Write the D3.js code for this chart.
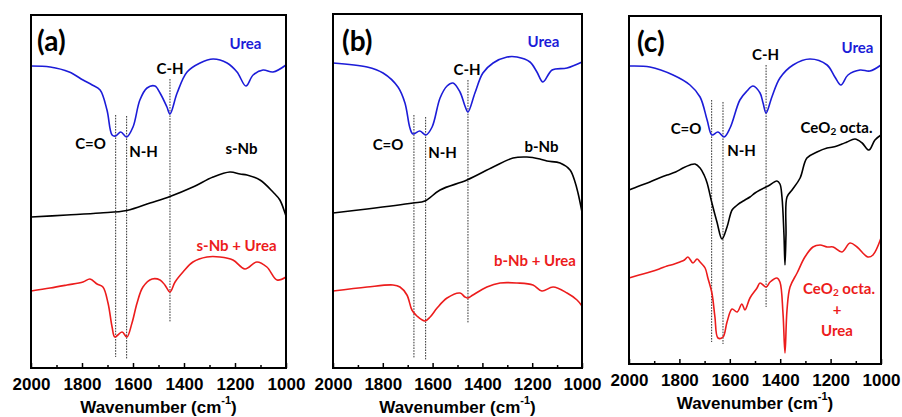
<!DOCTYPE html>
<html><head><meta charset="utf-8">
<script src="https://cdn.jsdelivr.net/npm/d3@7"></script>
<style>body{margin:0;background:#fff}svg{display:block}</style>
</head><body><svg id="chart" width="902" height="417"></svg>
<script>
// ---------- DATA (wavenumber in cm-1, transmittance in arbitrary units) ----------
const tickValues = [2000, 1800, 1600, 1400, 1200, 1000];
const minorTickValues = [1900, 1700, 1500, 1300, 1100];

// Panel (a)
const a_urea_w = [2000,1925,1850,1796,1760,1729,1702,1682,1668,1648,1625,1600,1573,1545,1514,1494,1467,1455,1427,1388,1337,1286,1231,1192,1157,1129,1090,1051,1000];
const a_urea_v = [302,301,296,288,283,278,258,233,232,236,231,241,268,280,282,275,261,254,275,296,305,309,305,296,282,293,298,296,303];
const a_snb_w = [2000,1859,1729,1624,1533,1455,1365,1286,1220,1180,1153,1102,1051,1024,1004,1000];
const a_snb_v = [151,153,155,157.5,165,171.5,181,191,196,194,193,188,176,168,155,152];
const a_mix_w = [2000,1925,1859,1796,1769,1741,1718,1698,1682,1671,1643,1624,1604,1584,1561,1525,1494,1475,1455,1435,1404,1365,1310,1259,1208,1161,1114,1075,1035,1000];
const a_mix_v = [77,80,83,86,89,84,81,65,41,31,36,31,45,65,81,89,88,83,76,86,96,106,111,111,108,99,106,101,88,91];

// Panel (b)
const b_urea_w = [2000,1863,1799,1739,1711,1691,1679,1651,1627,1602,1570,1542,1518,1490,1470,1458,1430,1398,1357,1301,1261,1209,1181,1157,1120,1060,1000];
const b_urea_v = [305,301,295,281,265,240,234,237,233,241,270,282,285,276,262,256,275,295,305,311,311,306,296,286,298,300,306];
const b_bnb_w = [2000,1863,1679,1631,1570,1462,1357,1277,1221,1169,1141,1088,1048,1028,1016,1000];
const b_bnb_v = [155,159,165,167,178,188,201,210,211,209,207,205,198,186,175,156];
const b_mix_w = [2000,1863,1759,1731,1703,1683,1663,1631,1610,1582,1542,1490,1470,1458,1438,1382,1329,1261,1197,1161,1116,1060,1020,1000];
const b_mix_v = [77,81,83,81,73,58,52,47,51,60,70,75,71,70,73,81,85,85,83,77,81,75,68,62];

// Panel (c)
const c_urea_w = [2000,1917,1825,1758,1718,1690,1671,1647,1623,1599,1560,1532,1508,1480,1468,1456,1433,1401,1349,1282,1214,1183,1159,1131,1083,1044,1000];
const c_urea_v = [298,297,289,279,267,244,229,232,227,236,264,273,278,271,261,251,267,286,299,305,299,287,279,289,294,293,299];
const c_ceo2_w = [2000,1960,1917,1880,1849,1815,1786,1758,1738,1718,1702,1690,1671,1651,1631,1611,1591,1575,1560,1540,1520,1500,1480,1448,1413,1401,1393,1385,1381,1377,1373,1353,1321,1294,1254,1214,1190,1155,1135,1103,1075,1048,1024,1000];
const c_ceo2_v = [174,178,182,186,189,192,196,199,200,196,189,181,161,142,125,137,154,158,161,164,167,171,174,178,183,180,167,129,99,129,167,174,186,206,212,216,217,220,222,225,221,214,224,229];
const c_mix_w = [2000,1960,1917,1880,1849,1820,1798,1780,1766,1746,1730,1718,1698,1687,1671,1659,1647,1627,1611,1591,1571,1552,1540,1520,1492,1480,1456,1440,1413,1401,1389,1381,1373,1361,1333,1302,1270,1242,1214,1190,1155,1123,1095,1052,1032,1000];
const c_mix_v = [86,89,92,95,98,100,102,104,107,101,105,102,96,86,71,47,26,27,42,55,52,60,54,66,76,81,77,82,86,82,51,11,54,77,91,107,117,119,117,117,112,121,117,107,109,126];

// Marker (dotted guide) wavenumbers
const a_guides = [1668, 1625, 1455];
const b_guides = [1675, 1628, 1458];
const c_guides = [1672, 1627, 1456];

// ---------- DRAWING ----------
const svg = d3.select('#chart');
const BLUE = '#1c1cd8', RED = '#ec1c1c', BLACK = '#000';
const LABEL_FONT = 'Lato, "Open Sans", sans-serif';
const AXIS_FONT = '"Liberation Sans", Arial, sans-serif';

const panels = [
  {box:{l:31,r:286,t:15,b:368}, yMax:353,
   series:[{w:a_urea_w,v:a_urea_v,c:BLUE},{w:a_snb_w,v:a_snb_v,c:BLACK},{w:a_mix_w,v:a_mix_v,c:RED}],
   guides:a_guides, guideTops:[253,252,289], guideBots:[11,9,46],
   tag:'(a)', tagPos:[37,40],
   labels:[
     {t:'Urea',x:245.5,y:43,c:BLUE},{t:'C-H',x:170,y:68,c:BLACK},{t:'C=O',x:90.5,y:143,c:BLACK},
     {t:'N-H',x:143.5,y:151,c:BLACK},{t:'s-Nb',x:241.5,y:148,c:BLACK},{t:'s-Nb + Urea',x:236.5,y:245,c:RED}]},
  {box:{l:333,r:582,t:14,b:368}, yMax:354,
   series:[{w:b_urea_w,v:b_urea_v,c:BLUE},{w:b_bnb_w,v:b_bnb_v,c:BLACK},{w:b_mix_w,v:b_mix_v,c:RED}],
   guides:b_guides, guideTops:[253,251,288], guideBots:[10,8,45],
   tag:'(b)', tagPos:[342,40],
   labels:[
     {t:'Urea',x:543.5,y:41,c:BLUE},{t:'C-H',x:467,y:69,c:BLACK},{t:'C=O',x:388,y:144,c:BLACK},
     {t:'N-H',x:442.5,y:152,c:BLACK},{t:'b-Nb',x:541.5,y:146,c:BLACK},{t:'b-Nb + Urea',x:535,y:260,c:RED}]},
  {box:{l:629,r:881,t:16,b:364}, yMax:348,
   series:[{w:c_urea_w,v:c_urea_v,c:BLUE},{w:c_ceo2_w,v:c_ceo2_v,c:BLACK},{w:c_mix_w,v:c_mix_v,c:RED}],
   guides:c_guides, guideTops:[264,262,299], guideBots:[22,20,57],
   tag:'(c)', tagPos:[637,41],
   labels:[
     {t:'Urea',x:857.5,y:47,c:BLUE},{t:'C-H',x:765.5,y:54,c:BLACK},{t:'C=O',x:686,y:128,c:BLACK},
     {t:'N-H',x:741.5,y:150,c:BLACK},
     {t:'CeO|2| octa.',x:836.5,y:127,c:BLACK},
     {t:'CeO|2| octa.',x:839,y:288,c:RED},{t:'+',x:837,y:309,c:RED},{t:'Urea',x:837,y:330,c:RED}]}
];

panels.forEach(p => {
  const x = d3.scaleLinear().domain([2000, 1000]).range([p.box.l, p.box.r]);
  const y = d3.scaleLinear().domain([0, p.yMax]).range([p.box.b, p.box.t]);
  const g = svg.append('g');

  // guides
  p.guides.forEach((gw, i) => {
    g.append('line').attr('x1', x(gw)).attr('x2', x(gw))
      .attr('y1', y(p.guideTops[i])).attr('y2', y(p.guideBots[i]))
      .attr('stroke', '#333').attr('stroke-width', 1).attr('stroke-dasharray', '1.6,1.2');
  });

  // series
  const line = d3.line().x(d => x(d[0])).y(d => y(d[1])).curve(d3.curveCatmullRom.alpha(0.5));
  p.series.forEach(s => {
    g.append('path').datum(d3.zip(s.w, s.v)).attr('d', line)
      .attr('fill', 'none').attr('stroke', s.c).attr('stroke-width', 1.6).attr('stroke-linejoin', 'round');
  });

  // axis with inward ticks
  const ax = g.append('g').attr('transform', `translate(0,${p.box.b})`)
    .call(d3.axisBottom(x).tickValues(tickValues).tickSize(-5).tickPadding(10).tickFormat(d3.format('d')));
  ax.select('.domain').remove();
  ax.selectAll('.tick line').attr('stroke', '#000').attr('stroke-width', 1.5);
  ax.selectAll('.tick text').attr('font-family', AXIS_FONT).attr('font-weight', 'bold').attr('font-size', 17).attr('fill', '#000');
  g.append('g').attr('transform', `translate(0,${p.box.b})`)
    .call(d3.axisBottom(x).tickValues(minorTickValues).tickSize(-3).tickFormat(''))
    .call(a => { a.select('.domain').remove(); a.selectAll('line').attr('stroke', '#000').attr('stroke-width', 1.5); });

  // frame
  g.append('rect').attr('x', p.box.l).attr('y', p.box.t)
    .attr('width', p.box.r - p.box.l).attr('height', p.box.b - p.box.t)
    .attr('fill', 'none').attr('stroke', '#000').attr('stroke-width', 2);

  // axis title
  const tt = g.append('text').attr('x', (p.box.l + p.box.r) / 2).attr('y', p.box.b + 39)
    .attr('text-anchor', 'middle').attr('dominant-baseline', 'central')
    .attr('font-family', AXIS_FONT).attr('font-weight', 'bold').attr('font-size', 17);
  tt.append('tspan').text('Wavenumber (cm');
  tt.append('tspan').text('-1').attr('font-size', 11).attr('dy', -7);
  tt.append('tspan').text(')').attr('dy', 7);

  // panel tag
  g.append('text').attr('x', p.tagPos[0]).attr('y', p.tagPos[1]).attr('dominant-baseline', 'central')
    .attr('font-family', LABEL_FONT).attr('font-weight', 'bold').attr('font-size', 28).text(p.tag);

  // labels
  p.labels.forEach(l => {
    const t = g.append('text').attr('x', l.x).attr('y', l.y).attr('text-anchor', 'middle')
      .attr('dominant-baseline', 'central').attr('font-family', LABEL_FONT).attr('font-weight', 'bold')
      .attr('font-size', 15).attr('fill', l.c);
    const parts = l.t.split('|');
    if (parts.length === 1) { t.text(l.t); }
    else {
      t.append('tspan').text(parts[0]);
      t.append('tspan').text(parts[1]).attr('font-size', 10).attr('dy', 4);
      t.append('tspan').text(parts[2]).attr('dy', -4);
    }
  });
});
</script></body></html>
